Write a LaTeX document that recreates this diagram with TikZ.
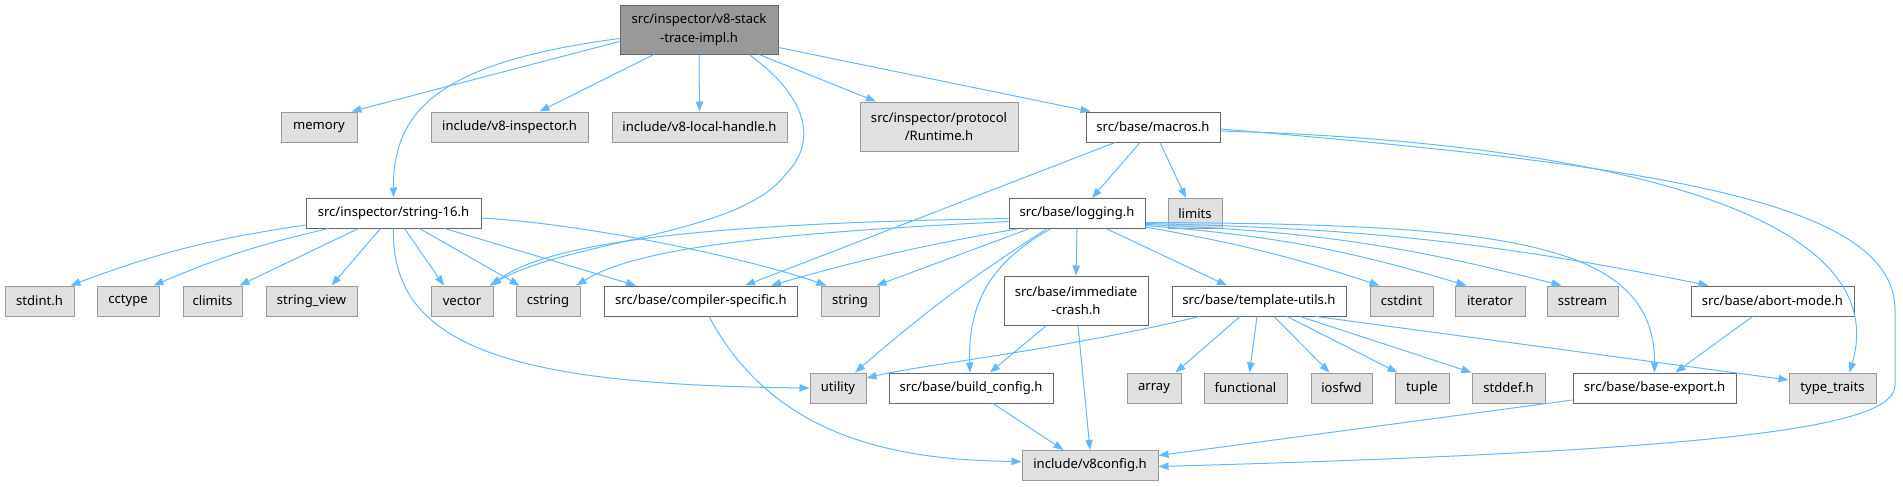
\documentclass[tikz,border=0pt]{standalone}
\usepackage{fontspec}
\setmainfont{Noto Sans}
\usetikzlibrary{arrows.meta,calc}

\begin{document}
\begin{tikzpicture}[x=0.75pt,y=-0.75pt,
  every node/.style={font=\fontsize{9.8}{14}\selectfont,inner sep=0pt,align=center,minimum height=22.5pt},
  wd/.style={minimum width=#1*0.75pt},
  tall/.style={minimum height=36.75pt},
  sysfile/.style={draw=gray99,fill=grayE0,line width=0.75pt},
  srcfile/.style={draw=gray66,fill=white,line width=0.75pt},
  mainfile/.style={draw=gray66,fill=gray99,line width=0.75pt},
  inc/.style={draw=edgeblue,line width=0.75pt,-{Triangle[length=7.5pt,width=5.5pt]}}]
  \definecolor{edgeblue}{HTML}{63B8FF}
  \definecolor{grayE0}{HTML}{E0E0E0}
  \definecolor{gray99}{HTML}{999999}
  \definecolor{gray66}{HTML}{666666}
  \useasboundingbox (0,0) rectangle (1903,486);

  % Files
  \node[mainfile,wd=158,tall] (root) at (699,29.5) {src/inspector/v8-stack\\-trace-impl.h};
  \node[sysfile,wd=76]  (memory) at (319,127) {memory};
  \node[sysfile,wd=157] (v8insp) at (509.5,127) {include/v8-inspector.h};
  \node[sysfile,wd=175] (local) at (699.5,127) {include/v8-local-handle.h};
  \node[sysfile,wd=158,tall] (runtime) at (939,126.5) {src/inspector/protocol\\/Runtime.h};
  \node[srcfile,wd=134] (macros) at (1153,127) {src/base/macros.h};
  \node[srcfile,wd=175] (string16) at (393.5,213) {src/inspector/string-16.h};
  \node[srcfile,wd=136] (logging) at (1077,213.5) {src/base/logging.h};
  \node[sysfile,wd=54]  (limits) at (1195,213.5) {limits};
  \node[sysfile,wd=69]  (stdint) at (39.5,301) {stdint.h};
  \node[sysfile,wd=62]  (cctype) at (128,301) {cctype};
  \node[sysfile,wd=59]  (climits) at (212.5,301) {climits};
  \node[sysfile,wd=91]  (stringview) at (311.5,301) {string\_view};
  \node[sysfile,wd=62]  (vector) at (462,301) {vector};
  \node[sysfile,wd=64]  (cstring) at (548,301) {cstring};
  \node[srcfile,wd=193] (compiler) at (701,301) {src/base/compiler-specific.h};
  \node[sysfile,wd=58]  (string) at (850,301) {string};
  \node[srcfile,wd=144,tall] (immediate) at (1076,300.5) {src/base/immediate\\-crash.h};
  \node[srcfile,wd=174] (template) at (1259,301) {src/base/template-utils.h};
  \node[sysfile,wd=63]  (cstdint) at (1401.5,301) {cstdint};
  \node[sysfile,wd=70]  (iterator) at (1490,301) {iterator};
  \node[sysfile,wd=71]  (sstream) at (1582.5,301) {sstream};
  \node[srcfile,wd=163] (abort) at (1772.5,301) {src/base/abort-mode.h};
  \node[sysfile,wd=56]  (utility) at (838,388) {utility};
  \node[srcfile,wd=164] (build) at (971,388) {src/base/build\_config.h};
  \node[sysfile,wd=54]  (array) at (1154,388) {array};
  \node[sysfile,wd=83]  (functional) at (1245.5,388) {functional};
  \node[sysfile,wd=61]  (iosfwd) at (1341.5,388) {iosfwd};
  \node[sysfile,wd=54]  (tuple) at (1422,388) {tuple};
  \node[sysfile,wd=73]  (stddef) at (1508.5,388) {stddef.h};
  \node[srcfile,wd=163] (baseexport) at (1654.5,388) {src/base/base-export.h};
  \node[sysfile,wd=87]  (typetraits) at (1832.5,388) {type\_traits};
  \node[sysfile,wd=136] (v8config) at (1090,465.5) {include/v8config.h};

  % v8-stack-trace-impl.h
  \draw[inc] ($(root.west)+(0,12)$) -- ($(memory.north east)+(-6,0)$);
  \draw[inc] ($(root.west)+(0,9)$) .. controls (440,62) and (393,110) .. (string16.north);
  \draw[inc] ($(root.south)+(-45,0)$) -- ($(v8insp.north)+(30,0)$);
  \draw[inc] (root.south) -- (local.north);
  \draw[inc] ($(root.south)+(60,0)$) -- ($(runtime.north)+(-63,0)$);
  \draw[inc] ($(root.east)+(0,18)$) -- ($(macros.north west)+(5,0)$);
  \draw[inc] ($(root.south)+(50,0)$) .. controls (805,95) and (820,140) .. (785,175)
    .. controls (740,235) and (570,240) .. ($(vector.north east)+(-4,0)$);

  % string-16.h
  \draw[inc] ($(string16.west)+(0,12)$) to[bend right=6] ($(stdint.north east)+(-4,0)$);
  \draw[inc] ($(string16.south)+(-65,0)$) to[bend right=5] ($(cctype.north east)+(-6,0)$);
  \draw[inc] ($(string16.south)+(-35,0)$) -- ($(climits.north east)+(-3,0)$);
  \draw[inc] ($(string16.south)+(-13,0)$) -- ($(stringview.north)+(20,0)$);
  \draw[inc] ($(string16.south)+(11,0)$) -- ($(vector.north)+(-18,0)$);
  \draw[inc] ($(string16.south)+(26,0)$) -- ($(cstring.north west)+(4,0)$);
  \draw[inc] ($(string16.south)+(51,0)$) -- ($(compiler.north west)+(32,0)$);
  \draw[inc] ($(string16.east)+(0,5)$) .. controls (600,225) and (760,262) .. ($(string.north west)+(6,0)$);
  \draw[inc] (string16.south) .. controls (390,350) and (520,385) .. (utility.west);

  % macros.h
  \draw[inc] ($(macros.south)+(-13,0)$) -- ($(logging.north)+(15,0)$);
  \draw[inc] ($(macros.south)+(7,0)$) -- ($(limits.north)+(-9,0)$);
  \draw[inc] ($(macros.south)+(-38,0)$) -- ($(compiler.north)+(44,0)$);
  \draw[inc] ($(macros.east)+(0,4)$) .. controls (1550,140) and (1900,200) .. ($(typetraits.north)+(17,0)$);
  \draw[inc] ($(macros.east)+(0,2)$) .. controls (1650,165) and (1895,200) .. (1895,310) -- (1895,385)
    .. controls (1895,425) and (1750,450) .. ($(v8config.east)+(0,1)$);

  % logging.h
  \draw[inc] ($(logging.west)+(0,5)$) .. controls (800,222) and (560,232) .. ($(vector.north east)+(-2,0)$);
  \draw[inc] ($(logging.west)+(0,8)$) .. controls (800,232) and (640,245) .. ($(cstring.north east)+(-4,0)$);
  \draw[inc] ($(logging.south west)+(8,0)$) to[bend right=3] ($(compiler.north)+(70,0)$);
  \draw[inc] ($(logging.south west)+(20,0)$) -- ($(string.north east)+(-3,0)$);
  \draw[inc] ($(logging.south west)+(38,0)$) to[bend right=4] ($(utility.north)+(17,0)$);
  \draw[inc] ($(logging.south west)+(42,0)$) .. controls (985,265) and (968,310) .. ($(build.north)+(-1,0)$);
  \draw[inc] (logging.south) -- (immediate.north);
  \draw[inc] ($(logging.south)+(30,0)$) -- ($(template.north)+(-32,0)$);
  \draw[inc] ($(logging.south east)+(0,-2)$) to[bend left=4] ($(cstdint.north west)+(10,0)$);
  \draw[inc] ($(logging.east)+(0,12)$) to[bend left=6] ($(iterator.north west)+(12,0)$);
  \draw[inc] ($(logging.east)+(0,11)$) to[bend left=6] ($(sstream.north west)+(15,0)$);
  \draw[inc] ($(logging.east)+(0,10)$) to[bend left=5] ($(abort.north west)+(18,0)$);
  \draw[inc] ($(logging.east)+(0,9)$) .. controls (1500,224) and (1655,240) .. (baseexport.north);

  % template-utils.h
  \draw[inc] ($(template.south west)+(28,0)$) .. controls (1060,350) and (920,365) .. ($(utility.east)+(0,-10)$);
  \draw[inc] ($(template.south)+(-19,0)$) -- ($(array.north east)+(-6,0)$);
  \draw[inc] ($(template.south)+(-2,0)$) -- ($(functional.north)+(4,0)$);
  \draw[inc] ($(template.south)+(15,0)$) -- ($(iosfwd.north)+(-12,0)$);
  \draw[inc] ($(template.south)+(28,0)$) -- ($(tuple.north west)+(3,0)$);
  \draw[inc] ($(template.south)+(41,0)$) -- (stddef.north west);
  \draw[inc] ($(template.south)+(57,0)$) -- ($(typetraits.west)+(0,-8)$);

  % remaining
  \draw[inc] ($(immediate.south west)+(43,0)$) -- ($(build.north)+(19,0)$);
  \draw[inc] ($(immediate.south)+(2,0)$) -- (v8config.north);
  \draw[inc] ($(build.south)+(22,0)$) -- ($(v8config.north west)+(42,0)$);
  \draw[inc] ($(compiler.south)+(8,0)$) .. controls (770,430) and (880,460) .. ($(v8config.west)+(0,-4)$);
  \draw[inc] ($(abort.south)+(-20,0)$) -- ($(baseexport.north)+(21,0)$);
  \draw[inc] ($(baseexport.west)+(0,12)$) -- ($(v8config.east)+(0,-10)$);
\end{tikzpicture}
\end{document}
